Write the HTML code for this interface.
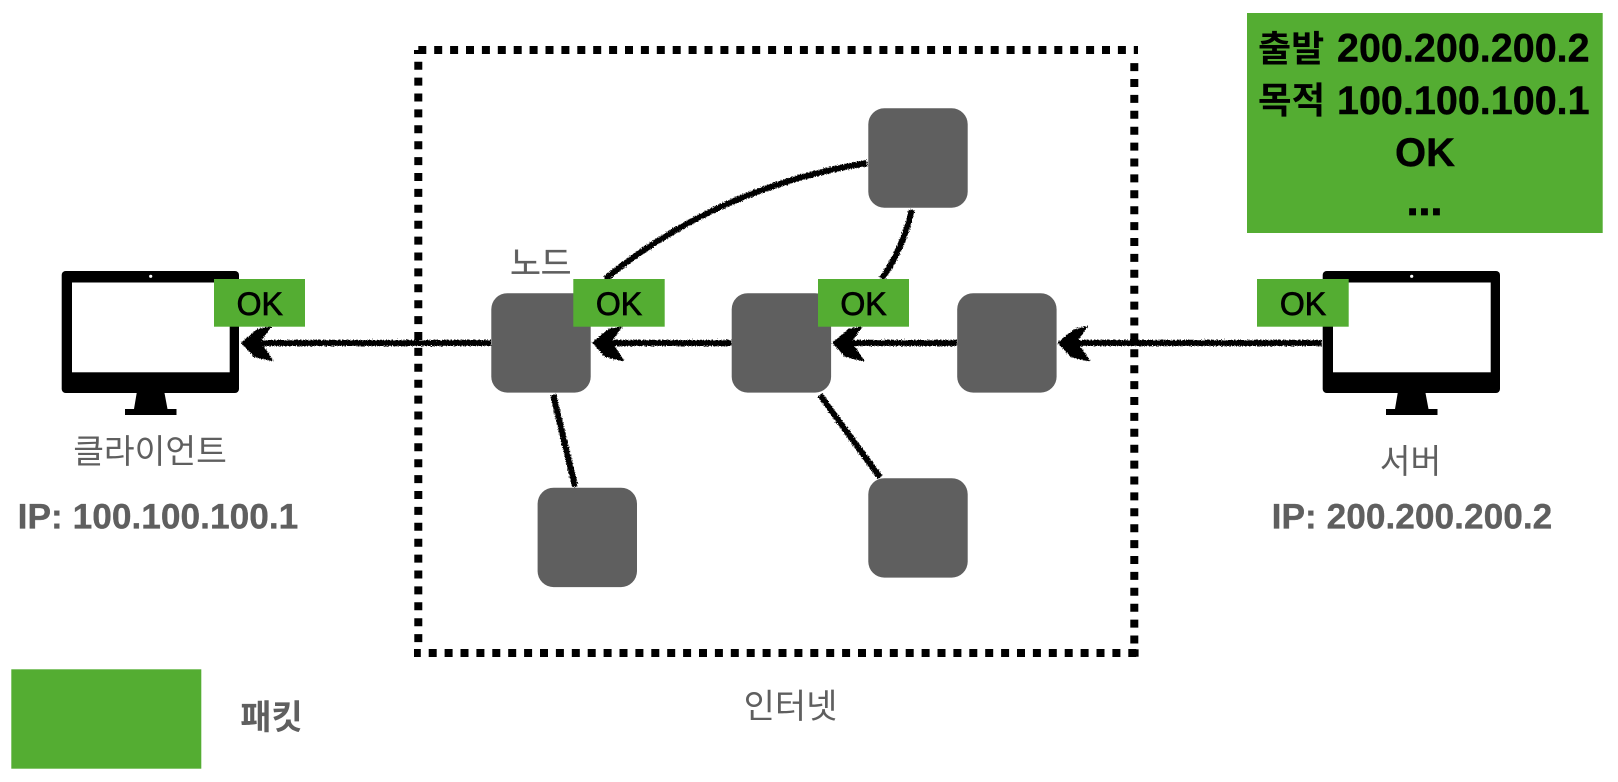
<!DOCTYPE html>
<html lang="ko">
<head>
<meta charset="utf-8">
<title>패킷 전달</title>
<style>
html,body{margin:0;padding:0;background:#fff;}
svg{display:block;}
text{font-family:"Liberation Sans","Noto Sans CJK KR",sans-serif;}
.g{fill:#5f5f5f;}
.k{fill:#000;}
.b{font-weight:700;}
.h{stroke:#5f5f5f;stroke-width:.35px;}
.ok{font-size:32px;text-anchor:middle;fill:#000;stroke:#000;stroke-width:.75px;}
</style>
</head>
<body>
<svg width="1618" height="782" viewBox="0 0 1618 782" xmlns="http://www.w3.org/2000/svg">
<defs>
<filter id="rough" filterUnits="userSpaceOnUse" x="0" y="0" width="1618" height="782">
<feTurbulence type="fractalNoise" baseFrequency="0.8" numOctaves="2" seed="4" result="n"/>
<feDisplacementMap in="SourceGraphic" in2="n" scale="4" xChannelSelector="R" yChannelSelector="G"/>
</filter>
</defs>
<rect width="1618" height="782" fill="#fff"/>

<!-- internet dotted border -->
<g stroke="#000" stroke-width="8" fill="none">
<line x1="414" y1="50" x2="1138" y2="50" stroke-dasharray="8 7.9" stroke-dashoffset="-4.3"/>
<line x1="418.3" y1="61.7" x2="418.3" y2="650" stroke-dasharray="8 7.9"/>
<line x1="1134.3" y1="63.1" x2="1134.3" y2="650" stroke-dasharray="8 7.9"/>
<line x1="414" y1="653" x2="1138.6" y2="653" stroke-dasharray="8 7.9" stroke-dashoffset="1.2"/>
</g>
<rect x="414" y="50" width="5" height="4" fill="#000"/>
<rect x="1130" y="649.3" width="8.6" height="7.4" fill="#000"/>

<!-- monitors -->
<g>
<rect x="61.7" y="271" width="177.3" height="122" rx="4" fill="#000"/>
<rect x="72" y="282.5" width="157.7" height="89.8" fill="#fff"/>
<circle cx="150.7" cy="276.3" r="1.6" fill="#fff"/>
<polygon points="136.7,393 164.5,393 167.5,409 134,409" fill="#000"/>
<rect x="125" y="409" width="51.5" height="6" fill="#000"/>
</g>
<g>
<rect x="1322.7" y="271" width="177.3" height="122" rx="4" fill="#000"/>
<rect x="1333" y="282.5" width="157.7" height="89.8" fill="#fff"/>
<circle cx="1411.7" cy="276.3" r="1.6" fill="#fff"/>
<polygon points="1397.7,393 1425.5,393 1428.5,409 1395,409" fill="#000"/>
<rect x="1386" y="409" width="51.5" height="6" fill="#000"/>
</g>

<!-- connectors -->
<g filter="url(#rough)">
<g stroke="#000" stroke-width="6" fill="none">
<line x1="1321.5" y1="343" x2="1062" y2="343"/>
<line x1="957" y1="343" x2="836" y2="343"/>
<line x1="731" y1="343" x2="596" y2="343"/>
<line x1="491" y1="343" x2="245" y2="343"/>
<path d="M867,163 Q718,187 605,279"/>
<path d="M911.7,210 Q903,249 881.7,279"/>
<line x1="553.3" y1="395" x2="575" y2="486.7"/>
<line x1="820" y1="395" x2="880" y2="477.3"/>
</g>
<g fill="#000" stroke="#000" stroke-width="1.2" stroke-linejoin="round">
<polygon transform="translate(241.7 342.7)" points="0,0 16,-13 29,-16 19,-2 21,3 31,18 13,14"/>
<polygon transform="translate(592.7 342.7)" points="0,0 16,-13 29,-16 19,-2 21,3 31,18 13,14"/>
<polygon transform="translate(832.7 342.7)" points="0,0 16,-13 29,-16 19,-2 21,3 31,18 13,14"/>
<polygon transform="translate(1058.2 342.7)" points="0,0 16,-13 29,-16 19,-2 21,3 31,18 13,14"/>
</g>
</g>

<!-- nodes -->
<g fill="#5f5f5f">
<rect x="491.3" y="293.2" width="99.4" height="99.4" rx="16"/>
<rect x="731.7" y="293.2" width="99.4" height="99.4" rx="16"/>
<rect x="957.2" y="293.2" width="99.4" height="99.4" rx="16"/>
<rect x="868.3" y="108.3" width="99.4" height="99.4" rx="16"/>
<rect x="537.6" y="487.7" width="99.4" height="99.4" rx="16"/>
<rect x="868.3" y="478.2" width="99.4" height="99.4" rx="16"/>
</g>

<!-- packets -->
<g fill="#54ad32">
<rect x="214" y="279" width="91" height="47.7"/>
<rect x="573.3" y="279" width="91.4" height="47.7"/>
<rect x="818" y="279" width="91" height="47.7"/>
<rect x="1257" y="279" width="91.7" height="47.7"/>
<rect x="1247" y="13" width="355.7" height="220"/>
<rect x="11.3" y="669.3" width="190" height="99.4"/>
</g>
<text class="ok" x="259.7" y="315">OK</text>
<text class="ok" x="619" y="315">OK</text>
<text class="ok" x="863.5" y="315">OK</text>
<text class="ok" x="1303" y="315">OK</text>

<!-- big packet text -->
<text class="k b" x="1258" y="61" font-size="36">출발</text>
<text class="k b" x="1337" y="61.7" font-size="39.5" stroke="#000" stroke-width=".4">200.200.200.2</text>
<text class="k b" x="1258" y="113" font-size="36.5">목적</text>
<text class="k b" x="1337" y="114" font-size="39.5" stroke="#000" stroke-width=".4">100.100.100.1</text>
<text class="k b" x="1425" y="166" font-size="40" text-anchor="middle" stroke="#000" stroke-width=".4">OK</text>
<text class="k b" x="1424.5" y="215" font-size="43" text-anchor="middle" stroke="#000" stroke-width=".8">...</text>

<!-- labels -->
<text class="g" x="150" y="463" font-size="33.4" text-anchor="middle">클라이언트</text>
<text class="g b h" x="158" y="528.3" font-size="35.3" text-anchor="middle">IP: 100.100.100.1</text>
<text class="g" x="1410.5" y="473" font-size="33.4" text-anchor="middle">서버</text>
<text class="g b h" x="1412" y="528.3" font-size="35.3" text-anchor="middle">IP: 200.200.200.2</text>
<text class="g h" x="540.8" y="275" font-size="33.4" text-anchor="middle">노드</text>
<text class="g" x="790.5" y="718" font-size="34" text-anchor="middle">인터넷</text>
<text class="g b" x="271.5" y="729" font-size="34" text-anchor="middle">패킷</text>
</svg>
</body>
</html>
